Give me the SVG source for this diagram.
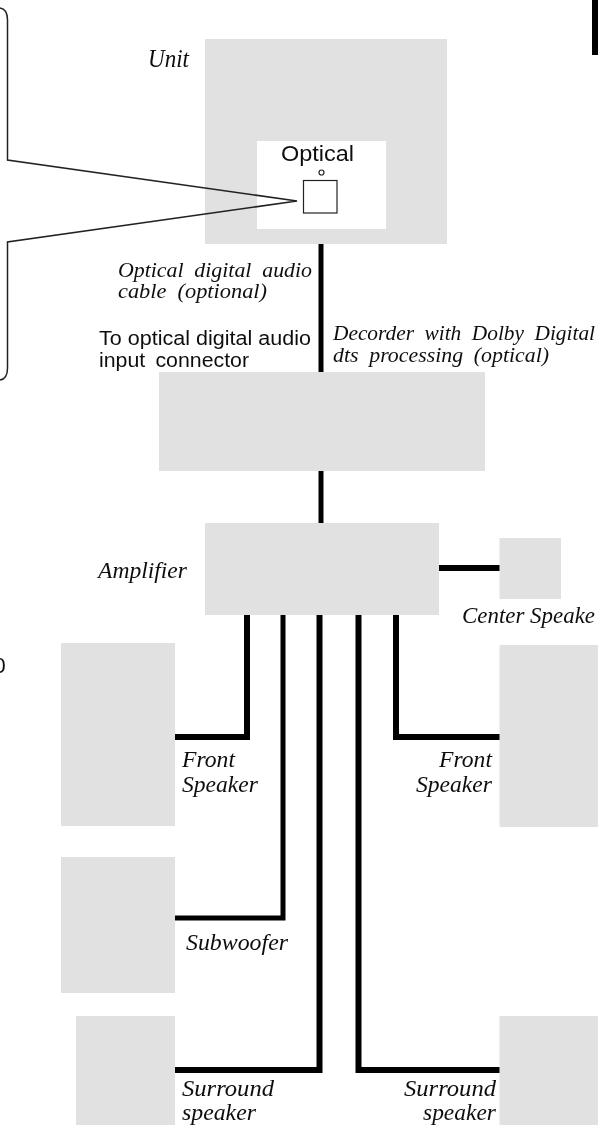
<svg xmlns="http://www.w3.org/2000/svg" width="598" height="1125" viewBox="0 0 598 1125">
<style>
.box{fill:#e1e1e1}
.wire{fill:none;stroke:#000;stroke-width:6;stroke-linejoin:miter}
.thin{stroke-width:5}
.i{font-family:"Liberation Serif",serif;font-style:italic;font-size:24px;fill:#111}
.c{font-size:20.500px;word-spacing:5px}
.s{font-family:"Liberation Sans",Arial,sans-serif;font-size:19.500px;fill:#111}
</style>
<defs><filter id="soft" x="-5%" y="-5%" width="110%" height="110%"><feGaussianBlur stdDeviation="0.35"/></filter></defs>
<rect width="598" height="1125" fill="#fff"/>
<g filter="url(#soft)">
<g id="corner-mark"><rect x="592" y="0" width="6" height="55" fill="#000"/></g>
<g id="unit">
<rect class="box" x="205" y="39" width="242" height="205"/>
<rect x="257" y="141" width="129" height="88" fill="#fff"/>
<text class="i" x="148" y="67" textLength="41" lengthAdjust="spacingAndGlyphs" style="font-size:25px">Unit</text>
</g>
<g id="optical-port">
<rect x="303.500" y="180.500" width="33.500" height="32.500" fill="#fff" stroke="#222" stroke-width="1.200"/>
<circle cx="321.500" cy="172.500" r="2.500" fill="#fff" stroke="#222" stroke-width="1.200"/>
<text class="s" x="281" y="161" textLength="73" lengthAdjust="spacingAndGlyphs" style="font-size:22px">Optical</text>
</g>
<g id="callout">
<path d="M0 8Q7.500 9 7.500 20V160L297 201 7.500 242V368Q7.500 379 0 380" fill="none" stroke="#222" stroke-width="1.500"/>
</g>
<g id="decoder"><rect class="box" x="159" y="372" width="326" height="99"/></g>
<g id="amplifier"><rect class="box" x="205" y="523" width="234" height="92"/>
<text class="i" x="98" y="578" textLength="89" lengthAdjust="spacingAndGlyphs">Amplifier</text></g>
<g id="center-speaker"><rect class="box" x="499.500" y="538" width="61.500" height="61"/>
<text class="i" x="462" y="623" textLength="133" lengthAdjust="spacingAndGlyphs" style="font-size:23px">Center Speake</text></g>
<g id="front-left"><rect class="box" x="61" y="643" width="114" height="183"/>
<text class="i" x="182" y="767" textLength="53" lengthAdjust="spacingAndGlyphs">Front</text>
<text class="i" x="182" y="792" textLength="76" lengthAdjust="spacingAndGlyphs">Speaker</text></g>
<g id="front-right"><rect class="box" x="499.500" y="645" width="98.500" height="182"/>
<text class="i" x="439" y="767" textLength="53" lengthAdjust="spacingAndGlyphs">Front</text>
<text class="i" x="416" y="792" textLength="76" lengthAdjust="spacingAndGlyphs">Speaker</text></g>
<g id="subwoofer"><rect class="box" x="61" y="857" width="114" height="136"/>
<text class="i" x="186" y="950" textLength="102" lengthAdjust="spacingAndGlyphs">Subwoofer</text></g>
<g id="surround-left"><rect class="box" x="76" y="1016" width="99" height="109"/>
<text class="i" x="182" y="1096" textLength="92" lengthAdjust="spacingAndGlyphs">Surround</text>
<text class="i" x="182" y="1120" textLength="74" lengthAdjust="spacingAndGlyphs">speaker</text></g>
<g id="surround-right"><rect class="box" x="499.500" y="1016" width="98.500" height="109"/>
<text class="i" x="404" y="1096" textLength="92" lengthAdjust="spacingAndGlyphs">Surround</text>
<text class="i" x="423" y="1120" textLength="73" lengthAdjust="spacingAndGlyphs">speaker</text></g>
<g id="connectors">
<path class="wire thin" d="M321 244V372"/>
<path class="wire thin" d="M321 471V523"/>
<path class="wire" d="M439 568H499.500"/>
<path class="wire" d="M247 615V737H175"/>
<path class="wire" d="M396 615V737H499.500"/>
<path class="wire thin" d="M283 615V918H175"/>
<path class="wire" d="M319.500 615V1070H175"/>
<path class="wire" d="M358.500 615V1070H499.500"/>
</g>
<g id="labels">
<text class="i c" x="118" y="277" textLength="194" lengthAdjust="spacingAndGlyphs">Optical digital audio</text>
<text class="i c" x="118" y="298" textLength="149" lengthAdjust="spacingAndGlyphs">cable (optional)</text>
<text class="s" x="99" y="345" textLength="212" lengthAdjust="spacingAndGlyphs">To optical digital audio</text>
<text class="s" x="99" y="367" textLength="150" lengthAdjust="spacingAndGlyphs" style="word-spacing:4px">input connector</text>
<text class="i c" x="333" y="340" textLength="262" lengthAdjust="spacingAndGlyphs">Decorder with Dolby Digital</text>
<text class="i c" x="333" y="362" textLength="216" lengthAdjust="spacingAndGlyphs">dts processing (optical)</text>
<text class="s" x="-6.500" y="673" style="font-size:22px">0</text>
</g>
</g>
</svg>
